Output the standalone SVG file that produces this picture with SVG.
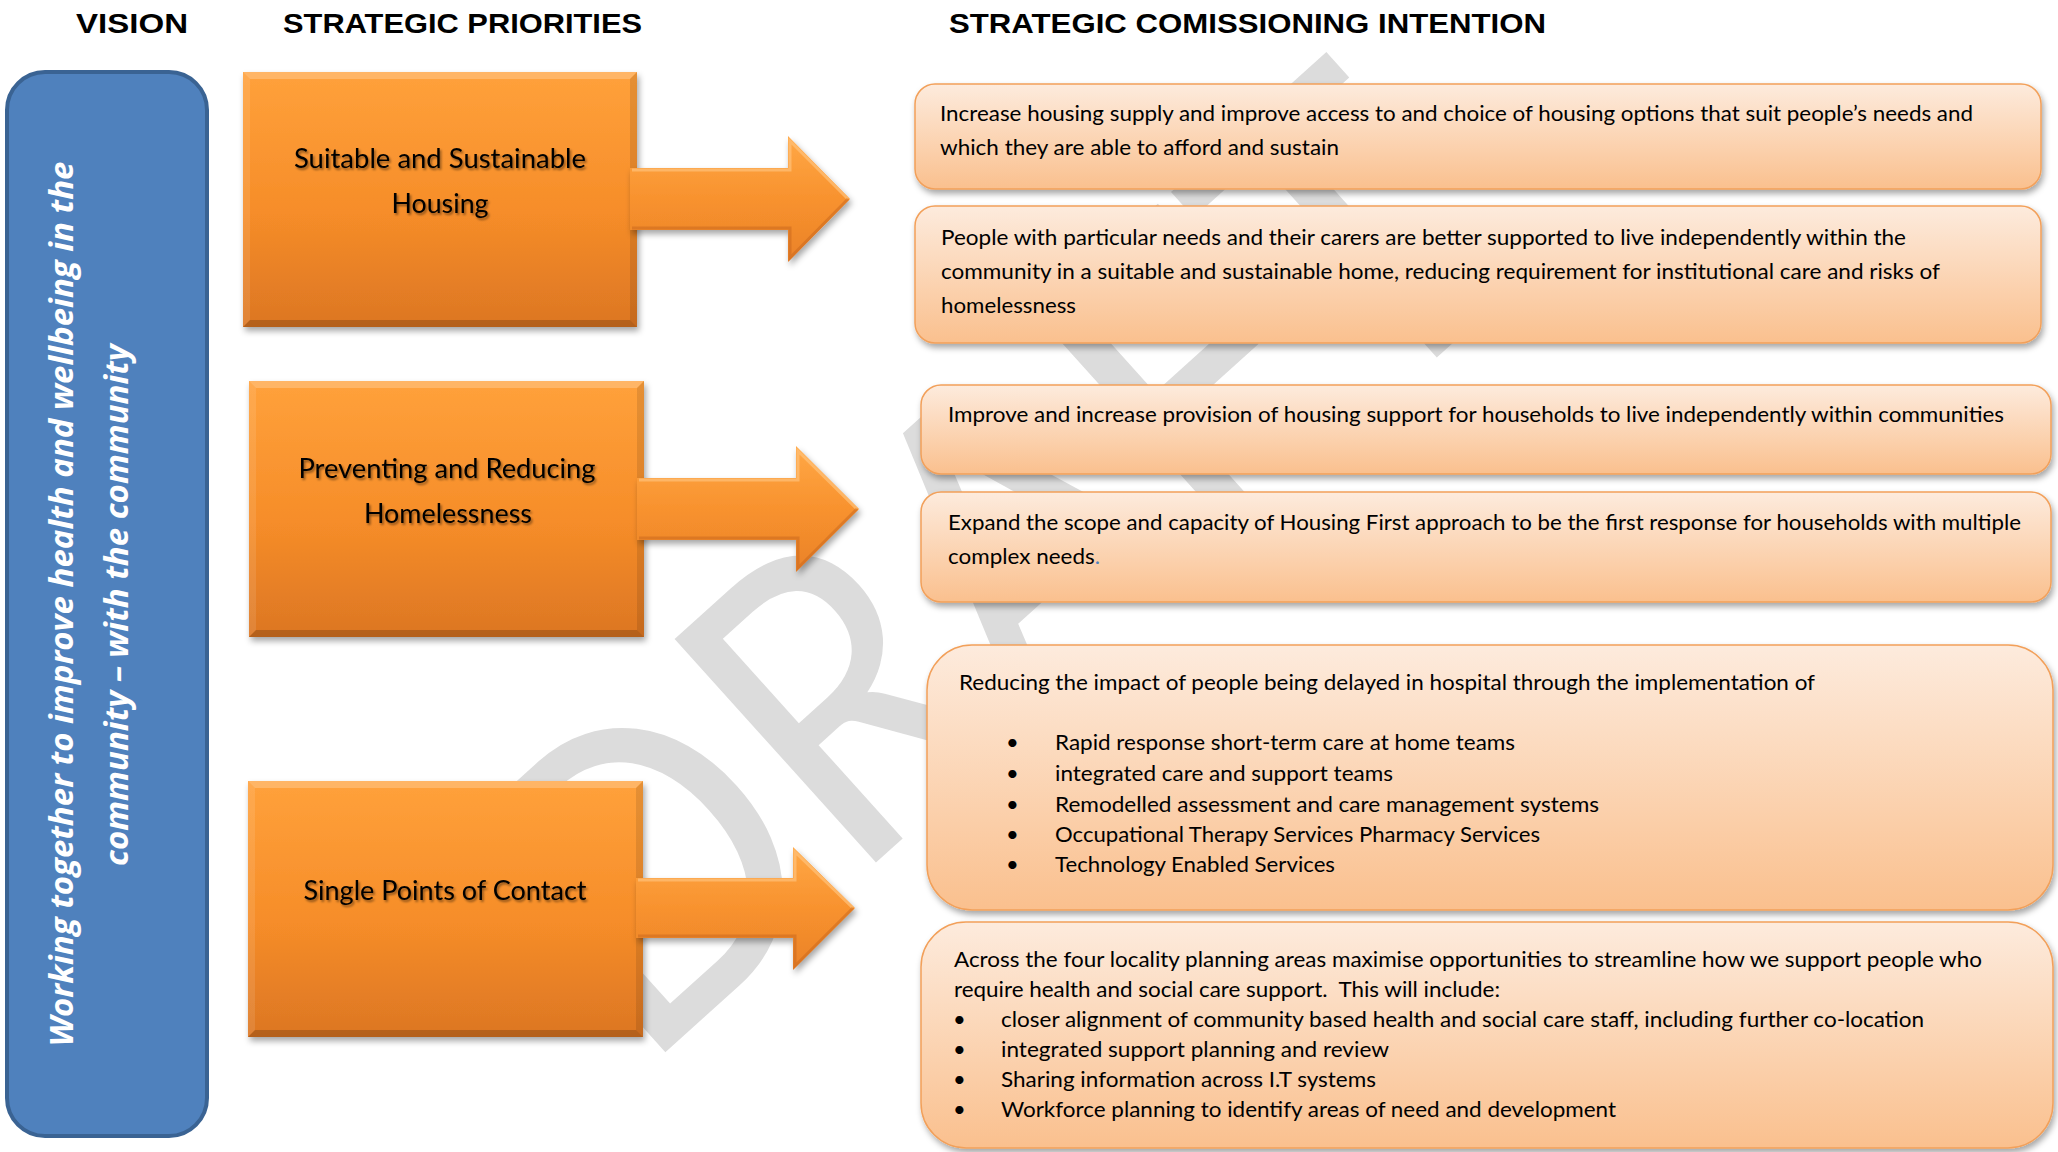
<svg xmlns="http://www.w3.org/2000/svg" width="2058" height="1152" viewBox="0 0 2058 1152">
  <defs>
    <linearGradient id="gOrange" x1="0" y1="0" x2="0" y2="1">
      <stop offset="0" stop-color="#FFA13B"/>
      <stop offset="0.55" stop-color="#F68D29"/>
      <stop offset="1" stop-color="#DC7623"/>
    </linearGradient>
    <linearGradient id="gArrow" x1="0" y1="0" x2="0" y2="1">
      <stop offset="0" stop-color="#FFA846"/>
      <stop offset="0.5" stop-color="#F8922E"/>
      <stop offset="1" stop-color="#EA8229"/>
    </linearGradient>
    <linearGradient id="gPeach" x1="0" y1="0" x2="0" y2="1">
      <stop offset="0" stop-color="#FDEBDD"/>
      <stop offset="1" stop-color="#FAC08E"/>
    </linearGradient>
    <filter id="shadow" x="-5%" y="-10%" width="115%" height="130%">
      <feDropShadow dx="2" dy="4" stdDeviation="3" flood-color="#000" flood-opacity="0.35"/>
    </filter>
    <filter id="txtShadow" x="-5%" y="-20%" width="115%" height="150%">
      <feDropShadow dx="1.5" dy="2" stdDeviation="1.2" flood-color="#000" flood-opacity="0.45"/>
    </filter>
  </defs>
  <style>
    .hd{font-family:"Liberation Sans",Arial,sans-serif;font-weight:bold;font-size:28px;fill:#000}
    .pr{font-family:Lato,"Liberation Sans",sans-serif;font-size:27px;fill:#000;text-anchor:middle;filter:url(#txtShadow)}
    .tx{font-family:Lato,"Liberation Sans",sans-serif;font-size:22px;fill:#000}
    .vis{font-family:"Open Sans",sans-serif;font-weight:bold;font-style:italic;font-size:32px;fill:#fff;text-anchor:middle}
    .pbox{fill:url(#gOrange);filter:url(#shadow)}
    .hi{fill:#fff;opacity:0.22}
    .hi2{fill:#fff;opacity:0.1}
    .lo{fill:#000;opacity:0.1}
    .lo2{fill:#000;opacity:0.18}
    .ibox{fill:url(#gPeach);stroke:#F2A05A;stroke-width:1.5;filter:url(#shadow)}
    .arrow{fill:url(#gArrow);filter:url(#shadow)}
    .aedge{fill:none;stroke-width:3}
  </style>

  <rect width="2058" height="1152" fill="#fff"/>

  <!-- DRAFT watermark behind everything -->
  <g id="watermark" opacity="0.85">
    <text transform="translate(640,1075) rotate(-42)" x="0" y="0" font-family="Lato, sans-serif" font-size="420" fill="#D6D6D6" textLength="1200" lengthAdjust="spacingAndGlyphs">DRAFT</text>
  </g>

  <!-- column headings -->
  <g id="headings">
    <text class="hd" x="76" y="33" textLength="112" lengthAdjust="spacingAndGlyphs">VISION</text>
    <text class="hd" x="283" y="33" textLength="359" lengthAdjust="spacingAndGlyphs">STRATEGIC PRIORITIES</text>
    <text class="hd" x="949" y="33" textLength="597" lengthAdjust="spacingAndGlyphs">STRATEGIC COMISSIONING INTENTION</text>
  </g>

  <!-- vision bar -->
  <g id="vision">
    <rect x="7" y="72" width="200" height="1064" rx="38" ry="38" fill="#4F81BD" stroke="#3A6393" stroke-width="4"/>
    <text class="vis" transform="translate(73,604) rotate(-90)" textLength="885" lengthAdjust="spacingAndGlyphs">Working together to improve health and wellbeing in the</text>
    <text class="vis" transform="translate(128,605) rotate(-90)" textLength="522" lengthAdjust="spacingAndGlyphs">community – with the community</text>
  </g>

  <!-- strategic priorities -->
  <g id="priority-housing">
    <rect class="pbox" x="243" y="72" width="394" height="255"/>
    <polygon class="hi" points="243,72 637,72 630,79 250,79"/>
    <polygon class="hi2" points="243,72 250,79 250,320 243,327"/>
    <polygon class="lo" points="637,72 637,327 630,320 630,79"/>
    <polygon class="lo2" points="243,327 637,327 630,320 250,320"/>
    <text class="pr" x="440" y="168" textLength="292" lengthAdjust="spacingAndGlyphs">Suitable and Sustainable</text>
    <text class="pr" x="440" y="213" textLength="97" lengthAdjust="spacingAndGlyphs">Housing</text>
  </g>

  <g id="priority-homelessness">
    <rect class="pbox" x="249" y="381" width="395" height="256"/>
    <polygon class="hi" points="249,381 644,381 637,388 256,388"/>
    <polygon class="hi2" points="249,381 256,388 256,630 249,637"/>
    <polygon class="lo" points="644,381 644,637 637,630 637,388"/>
    <polygon class="lo2" points="249,637 644,637 637,630 256,630"/>
    <text class="pr" x="447" y="478" textLength="297" lengthAdjust="spacingAndGlyphs">Preventing and Reducing</text>
    <text class="pr" x="448" y="523" textLength="168" lengthAdjust="spacingAndGlyphs">Homelessness</text>
  </g>

  <g id="priority-contact">
    <rect class="pbox" x="248" y="781" width="395" height="256"/>
    <polygon class="hi" points="248,781 643,781 636,788 255,788"/>
    <polygon class="hi2" points="248,781 255,788 255,1030 248,1037"/>
    <polygon class="lo" points="643,781 643,1037 636,1030 636,788"/>
    <polygon class="lo2" points="248,1037 643,1037 636,1030 255,1030"/>
    <text class="pr" x="445" y="900" textLength="283" lengthAdjust="spacingAndGlyphs">Single Points of Contact</text>
  </g>

  <!-- block arrows linking priorities to intentions -->
  <g id="connectors">
    <g id="arrow-housing">
      <polygon class="arrow" points="630,168 788,168 788,136 850,199 788,262 788,230 630,230"/>
      <polyline class="aedge" stroke="#FFC27A" stroke-opacity="0.7" points="632,170 790,170 790,141 848,199"/>
      <polyline class="aedge" stroke="#C8661C" stroke-opacity="0.5" points="848,199 790,258 790,228 632,228"/>
    </g>
    <g id="arrow-homelessness">
      <polygon class="arrow" points="637,478 796,478 796,446 859,509 796,572 796,540 637,540"/>
      <polyline class="aedge" stroke="#FFC27A" stroke-opacity="0.7" points="639,480 798,480 798,451 857,509"/>
      <polyline class="aedge" stroke="#C8661C" stroke-opacity="0.5" points="857,509 798,568 798,538 639,538"/>
    </g>
    <g id="arrow-contact">
      <polygon class="arrow" points="636,878 793,878 793,847 855,908 793,970 793,938 636,938"/>
      <polyline class="aedge" stroke="#FFC27A" stroke-opacity="0.7" points="638,880 795,880 795,852 853,908"/>
      <polyline class="aedge" stroke="#C8661C" stroke-opacity="0.5" points="853,908 795,966 795,936 638,936"/>
    </g>
  </g>

  <!-- strategic commissioning intentions -->
  <g id="intent-supply">
    <rect class="ibox" x="915" y="84" width="1126" height="105" rx="20" ry="20"/>
    <text class="tx" x="940" y="121" textLength="1033" lengthAdjust="spacingAndGlyphs">Increase housing supply and improve access to and choice of housing options that suit people’s needs and</text>
    <text class="tx" x="940" y="155" textLength="399" lengthAdjust="spacingAndGlyphs">which they are able to afford and sustain</text>
  </g>

  <g id="intent-independent">
    <rect class="ibox" x="915" y="206" width="1126" height="137" rx="20" ry="20"/>
    <text class="tx" x="941" y="245" textLength="965" lengthAdjust="spacingAndGlyphs">People with particular needs and their carers are better supported to live independently within the</text>
    <text class="tx" x="941" y="279" textLength="999" lengthAdjust="spacingAndGlyphs">community in a suitable and sustainable home, reducing requirement for institutional care and risks of</text>
    <text class="tx" x="941" y="313" textLength="135" lengthAdjust="spacingAndGlyphs">homelessness</text>
  </g>

  <g id="intent-support">
    <rect class="ibox" x="921" y="385" width="1130" height="89" rx="20" ry="20"/>
    <text class="tx" x="948" y="422" textLength="1056" lengthAdjust="spacingAndGlyphs">Improve and increase provision of housing support for households to live independently within communities</text>
  </g>

  <g id="intent-housing-first">
    <rect class="ibox" x="921" y="492" width="1130" height="110" rx="20" ry="20"/>
    <text class="tx" x="948" y="530" textLength="1073" lengthAdjust="spacingAndGlyphs">Expand the scope and capacity of Housing First approach to be the first response for households with multiple</text>
    <text class="tx" x="948" y="564" textLength="152" lengthAdjust="spacingAndGlyphs">complex needs<tspan fill="#4F81BD">.</tspan></text>
  </g>

  <g id="intent-hospital">
    <rect class="ibox" x="927" y="645" width="1126" height="265" rx="45" ry="45"/>
    <text class="tx" x="959" y="690" textLength="856" lengthAdjust="spacingAndGlyphs">Reducing the impact of people being delayed in hospital through the implementation of</text>
    <g class="tx">
      <text x="1006" y="750">•</text>
      <text x="1055" y="750" textLength="460" lengthAdjust="spacingAndGlyphs">Rapid response short-term care at home teams</text>
      <text x="1006" y="781">•</text>
      <text x="1055" y="781" textLength="338" lengthAdjust="spacingAndGlyphs">integrated care and support teams</text>
      <text x="1006" y="812">•</text>
      <text x="1055" y="812" textLength="544" lengthAdjust="spacingAndGlyphs">Remodelled assessment and care management systems</text>
      <text x="1006" y="842">•</text>
      <text x="1055" y="842" textLength="485" lengthAdjust="spacingAndGlyphs">Occupational Therapy Services Pharmacy Services</text>
      <text x="1006" y="872">•</text>
      <text x="1055" y="872" textLength="280" lengthAdjust="spacingAndGlyphs">Technology Enabled Services</text>
    </g>
  </g>

  <g id="intent-localities">
    <rect class="ibox" x="921" y="922" width="1132" height="226" rx="45" ry="45"/>
    <text class="tx" x="954" y="967" textLength="1028" lengthAdjust="spacingAndGlyphs">Across the four locality planning areas maximise opportunities to streamline how we support people who</text>
    <text class="tx" x="954" y="997" textLength="546" lengthAdjust="spacingAndGlyphs" xml:space="preserve">require health and social care support.  This will include:</text>
    <g class="tx">
      <text x="953" y="1027">•</text>
      <text x="1001" y="1027" textLength="923" lengthAdjust="spacingAndGlyphs">closer alignment of community based health and social care staff, including further co-location</text>
      <text x="953" y="1057">•</text>
      <text x="1001" y="1057" textLength="388" lengthAdjust="spacingAndGlyphs">integrated support planning and review</text>
      <text x="953" y="1087">•</text>
      <text x="1001" y="1087" textLength="375" lengthAdjust="spacingAndGlyphs">Sharing information across I.T systems</text>
      <text x="953" y="1117">•</text>
      <text x="1001" y="1117" textLength="615" lengthAdjust="spacingAndGlyphs">Workforce planning to identify areas of need and development</text>
    </g>
  </g>
</svg>
